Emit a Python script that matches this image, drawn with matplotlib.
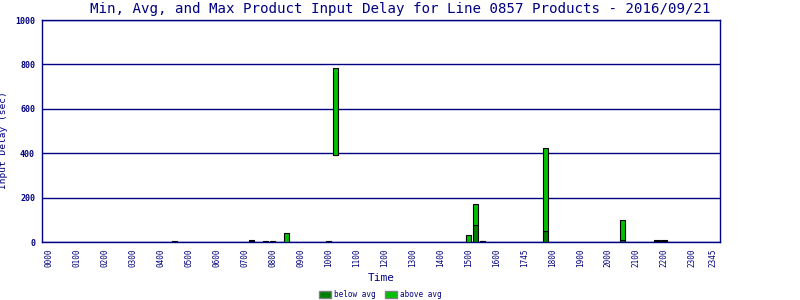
import matplotlib
matplotlib.use('Agg')
import matplotlib.pyplot as plt
from matplotlib.patches import Patch

# 15-minute slots with data
times = ['0430', '0715', '0745', '0800', '0830', '1000', '1015',
         '1500', '1515', '1530', '1745', '2030', '2145', '2200']
min_delay = [0, 0, 0, 0, 0, 0, 390, 0, 0, 0, 0, 0, 0, 0]
avg_delay = [2, 6, 2, 2, 2, 2, 392, 1, 75, 4, 50, 9, 4, 4]
max_delay = [3, 8, 3, 3, 40, 3, 784, 31, 171, 6, 423, 98, 8, 8]

tick_labels = ['0000', '0100', '0200', '0300', '0400', '0500', '0600', '0700',
               '0800', '0900', '1000', '1100', '1200', '1300', '1400', '1500',
               '1600', '1745', '1800', '1900', '2000', '2100', '2200', '2300', '2345']

navy = '#000080'
dark = '#008000'
bright = '#00c000'
mono = 'DejaVu Sans Mono'

slots = [int(t[:2]) * 4 + int(t[2:]) // 15 for t in times]
below = [a - m for a, m in zip(avg_delay, min_delay)]
above = [x - a for x, a in zip(max_delay, avg_delay)]

fig = plt.figure(figsize=(8, 3), dpi=100)
ax = fig.add_axes([0.0525, 0.1933, 0.8475, 0.74])

ax.bar(slots, below, bottom=min_delay, width=0.75, color=dark,
       edgecolor='black', linewidth=0.8, zorder=3)
ax.bar(slots, above, bottom=avg_delay, width=0.75, color=bright,
       edgecolor='black', linewidth=0.8, zorder=3)

ax.set_xlim(-1, 96)
ax.set_ylim(0, 1000)
ax.set_yticks([0, 200, 400, 600, 800, 1000])
ax.yaxis.grid(True, color=navy, linewidth=1)
ax.set_axisbelow(True)

tick_pos = list(range(0, 96, 4)) + [95]
ax.set_xticks(tick_pos)
ax.set_xticklabels(tick_labels, rotation=90, family=mono, fontsize=5.5, color=navy)
for lab in ax.get_yticklabels():
    lab.set_family(mono)
    lab.set_fontsize(6)
    lab.set_fontweight('bold')
    lab.set_color(navy)
ax.tick_params(length=0, pad=5)

for s in ax.spines.values():
    s.set_color(navy)
    s.set_linewidth(1)

fig.text(0.5, 0.97, 'Min, Avg, and Max Product Input Delay for Line 0857 Products - 2016/09/21',
         family=mono, fontsize=10.2, color=navy, ha='center', va='center')
ax.set_ylabel('Input Delay (sec)', family=mono, fontsize=6.8, color=navy)
ax.yaxis.set_label_coords(-0.05, 0.46)
ax.set_xlabel('Time', family=mono, fontsize=8, color=navy, labelpad=4)

handles = [Patch(facecolor=dark, edgecolor='gray', label='below avg'),
           Patch(facecolor=bright, edgecolor='gray', label='above avg')]
fig.legend(handles=handles, loc='lower center', bbox_to_anchor=(0.475, -0.02),
           ncol=2, frameon=False, prop={'family': mono, 'size': 5.5},
           labelcolor=navy, handlelength=1.6, handleheight=0.9, columnspacing=1.2,
           handletextpad=0.4)

fig.savefig('out.png', dpi=100)
